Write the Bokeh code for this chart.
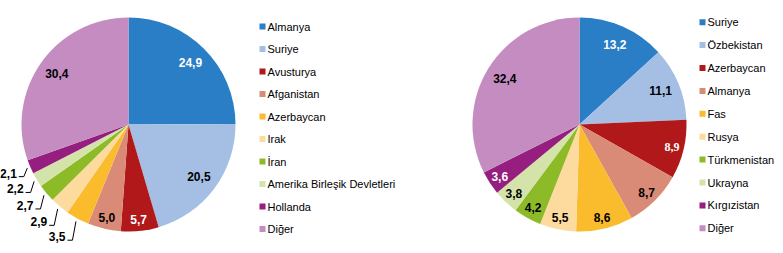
import numpy as np
from bokeh.plotting import figure
from bokeh.models import Range1d, ColumnDataSource
from bokeh.core.properties import value
from bokeh.embed import file_html
from bokeh.resources import INLINE

# ---------------- data ----------------
left_categories = ["Almanya", "Suriye", "Avusturya", "Afganistan", "Azerbaycan",
                   "Irak", "İran", "Amerika Birleşik Devletleri", "Hollanda", "Diğer"]
left_values = [24.9, 20.5, 5.7, 5.0, 3.5, 2.9, 2.7, 2.2, 2.1, 30.4]

right_categories = ["Suriye", "Özbekistan", "Azerbaycan", "Almanya", "Fas",
                    "Rusya", "Türkmenistan", "Ukrayna", "Kırgızistan", "Diğer"]
right_values = [13.2, 11.1, 8.9, 8.7, 8.6, 5.5, 4.2, 3.8, 3.6, 32.4]

palette = ["#2A7EC5", "#A5BFE4", "#B0181A", "#D98B77", "#FABB2C",
           "#FDDB9F", "#8DBB28", "#D4E3A9", "#951E7E", "#C48CC1"]
dark = [True, False, True, False, False, False, False, False, True, False]

W, H = 783, 253
p = figure(width=W, height=H, output_backend="svg", toolbar_location=None,
           x_range=Range1d(0, W), y_range=Range1d(0, H), min_border=0)
p.axis.visible = False
p.grid.visible = False
p.outline_line_color = None
p.background_fill_color = "white"
p.border_fill_color = "white"

FONT = "Liberation Sans"
R = 107.0


def fmt(v):
    return f"{v:.1f}".replace(".", ",")


def draw_pie(cx, cy_scr, values, outside_below=None, serif_idx=()):
    cy = H - cy_scr
    vals = np.array(values, dtype=float)
    frac = vals / vals.sum()
    cum_end = np.cumsum(frac)
    cum_start = cum_end - frac
    start = np.pi / 2 - 2 * np.pi * cum_end
    end = np.pi / 2 - 2 * np.pi * cum_start
    src = ColumnDataSource(dict(start=start, end=end, color=palette[:len(vals)]))
    p.wedge(x=cx, y=cy, radius=R, start_angle="start", end_angle="end",
            direction="anticlock", fill_color="color", line_color=None, source=src)

    mid = 2 * np.pi * (cum_start + frac / 2)  # clockwise from top
    s, c = np.sin(mid), np.cos(mid)
    ix, iy, it, icol, ifont = [], [], [], [], []
    ox, oy, ot = [], [], []
    lx, ly = [], []
    for i, v in enumerate(vals):
        if outside_below is not None and v < outside_below:
            ex, ey = cx + 1.03 * R * s[i], cy + 1.03 * R * c[i]
            bx = ex - 3.5
            by = cy + 1.23 * R * c[i]
            lx.append([bx - 5, bx, ex])
            ly.append([by, by, ey])
            ox.append(bx - 7)
            oy.append(by - 1)
            ot.append(fmt(v))
        else:
            f = 0.89 if v < 10 else 0.82
            ix.append(cx + f * R * s[i])
            iy.append(cy + f * R * c[i])
            it.append(fmt(v))
            icol.append("white" if dark[i] else "black")
            ifont.append("Liberation Serif" if i in serif_idx else FONT)
    p.text(x="x", y="y", text="text", text_color="color", text_font="font",
           source=ColumnDataSource(dict(x=ix, y=iy, text=it, color=icol, font=ifont)),
           text_align="center", text_baseline="middle",
           text_font_size="12px", text_font_style="bold")
    if ot:
        p.multi_line(xs=lx, ys=ly, line_color="black", line_width=1)
        p.text(x=ox, y=oy, text=ot, text_color="black", text_font=value(FONT),
               text_align="right", text_baseline="bottom",
               text_font_size="12px", text_font_style="bold")


def draw_legend(sq_x, top_scr, step, cats):
    n = len(cats)
    ys = [H - (top_scr + step * i) for i in range(n)]
    p.rect(x=[sq_x] * n, y=ys, width=6, height=6, fill_color=palette[:n], line_color=None)
    p.text(x=[sq_x + 5] * n, y=ys, text=cats, text_color="black",
           text_font=value(FONT), text_font_size="11px",
           text_align="left", text_baseline="middle")


draw_pie(128, 124, left_values, outside_below=4.0)
draw_pie(579, 124, right_values, serif_idx=(2,))
draw_legend(262, 26, 22.5, left_categories)
draw_legend(702, 21.7, 22.9, right_categories)

open("out.html", "w").write(file_html(p, INLINE))
